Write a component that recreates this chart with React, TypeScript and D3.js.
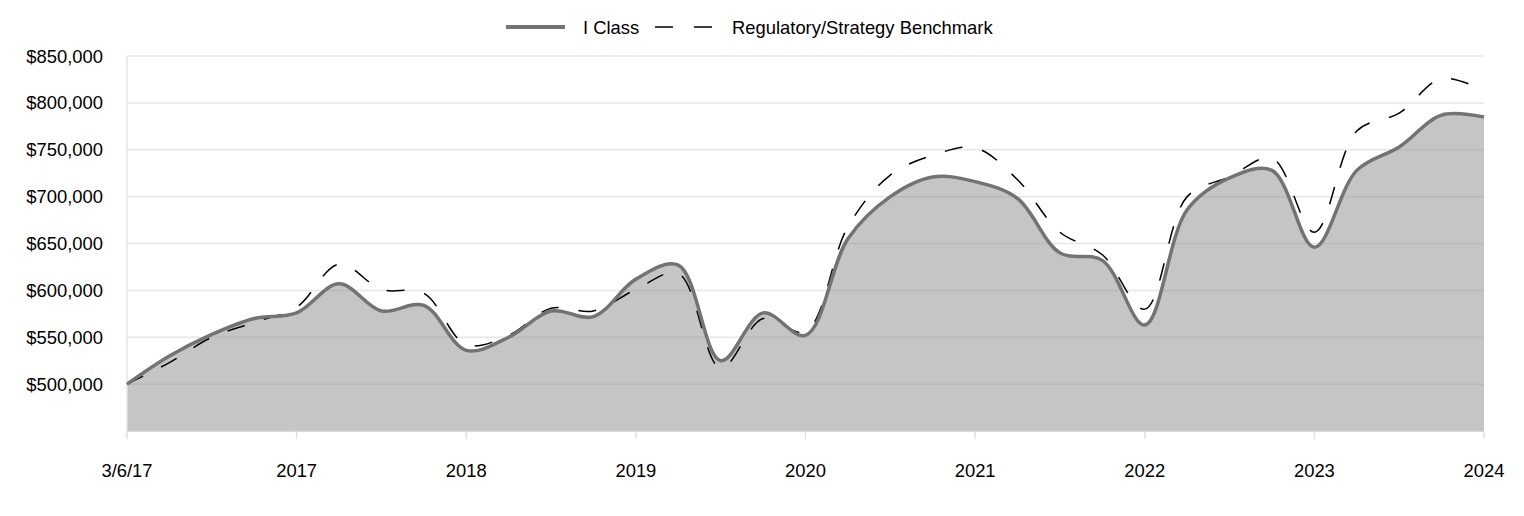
import React, { useEffect, useRef } from 'react';
import * as d3 from 'd3';

// quarterly values, 3/6/17 through 2024
const iClass = [
  500000, 530000, 553000, 570000, 576000, 607000, 578000, 584000, 536000,
  550000, 578000, 572000, 612000, 627000, 525000, 576000, 552000, 655000,
  700000, 721000, 716000, 698000, 640000, 632000, 563000, 686000, 720000,
  728000, 646000, 728000, 753000, 787000, 785000,
];
const benchmark = [
  500000, 523000, 550000, 566000, 582000, 628000, 601000, 597000, 542000,
  552000, 581000, 578000, 601000, 618000, 517000, 570000, 556000, 668000,
  723000, 744000, 752000, 718000, 662000, 638000, 580000, 700000, 721000,
  741000, 662000, 770000, 789000, 826000, 813000,
];
const xTickLabels = ['3/6/17', '2017', '2018', '2019', '2020', '2021', '2022', '2023', '2024'];
const yTicks = [500000, 550000, 600000, 650000, 700000, 750000, 800000, 850000];
const seriesNames = ['I Class', 'Regulatory/Strategy Benchmark'];

const width = 1524;
const height = 516;
const margin = { top: 56, right: 40, bottom: 85, left: 127 };
const font = 'Liberation Sans, Arial, sans-serif';
const fontSize = 18.4;

export default function App() {
  const ref = useRef<SVGSVGElement>(null);

  useEffect(() => {
    const svg = d3.select(ref.current);
    svg.selectAll('*').remove();

    const x = d3
      .scaleLinear()
      .domain([0, iClass.length - 1])
      .range([margin.left, width - margin.right]);
    const y = d3
      .scaleLinear()
      .domain([450000, 850000])
      .range([height - margin.bottom, margin.top]);

    const bottom = height - margin.bottom;
    const curve = d3.curveCatmullRom.alpha(0.5);

    // grid
    svg
      .append('g')
      .selectAll('line')
      .data(yTicks)
      .join('line')
      .attr('x1', margin.left)
      .attr('x2', width - margin.right)
      .attr('y1', d => y(d))
      .attr('y2', d => y(d))
      .attr('stroke', '#e6e6e6')
      .attr('stroke-width', 1.5);

    const area = d3
      .area<number>()
      .x((d, i) => x(i))
      .y0(bottom)
      .y1(d => y(d))
      .curve(curve);
    const line = d3
      .line<number>()
      .x((d, i) => x(i))
      .y(d => y(d))
      .curve(curve);

    svg
      .append('path')
      .datum(iClass)
      .attr('d', area)
      .attr('fill', 'rgb(140,140,140)')
      .attr('fill-opacity', 0.5);

    // axes lines
    svg
      .append('line')
      .attr('x1', margin.left)
      .attr('x2', margin.left)
      .attr('y1', margin.top)
      .attr('y2', bottom)
      .attr('stroke', '#e6e6e6')
      .attr('stroke-width', 1.5);
    svg
      .append('line')
      .attr('x1', margin.left)
      .attr('x2', width - margin.right)
      .attr('y1', bottom)
      .attr('y2', bottom)
      .attr('stroke', '#cccccc')
      .attr('stroke-width', 1.5);

    svg
      .append('path')
      .datum(benchmark)
      .attr('d', line)
      .attr('fill', 'none')
      .attr('stroke', '#000')
      .attr('stroke-width', 1.5)
      .attr('stroke-dasharray', '18,20');

    svg
      .append('path')
      .datum(iClass)
      .attr('d', line)
      .attr('fill', 'none')
      .attr('stroke', '#737373')
      .attr('stroke-width', 3.5);

    // x ticks
    const xt = svg
      .append('g')
      .selectAll('g')
      .data(xTickLabels)
      .join('g')
      .attr('transform', (d, i) => `translate(${x(i * 4)},0)`);
    xt.append('line')
      .attr('y1', bottom)
      .attr('y2', bottom + 8)
      .attr('stroke', '#e0e0e0')
      .attr('stroke-width', 1.5);
    xt.append('text')
      .attr('y', 477)
      .attr('text-anchor', 'middle')
      .attr('font-family', font)
      .attr('font-size', fontSize)
      .attr('fill', '#000')
      .text(d => d);

    // y labels
    svg
      .append('g')
      .selectAll('text')
      .data(yTicks)
      .join('text')
      .attr('x', 103)
      .attr('y', d => y(d) + 6.5)
      .attr('text-anchor', 'end')
      .attr('font-family', font)
      .attr('font-size', fontSize)
      .attr('fill', '#000')
      .text(d => '$' + d3.format(',')(d));

    // legend
    const lg = svg.append('g');
    lg.append('line')
      .attr('x1', 506)
      .attr('x2', 565)
      .attr('y1', 27)
      .attr('y2', 27)
      .attr('stroke', '#737373')
      .attr('stroke-width', 4);
    lg.append('text')
      .attr('x', 583)
      .attr('y', 33.5)
      .attr('font-family', font)
      .attr('font-size', fontSize)
      .text(seriesNames[0]);
    lg.append('line')
      .attr('x1', 655)
      .attr('x2', 712)
      .attr('y1', 27)
      .attr('y2', 27)
      .attr('stroke', '#000')
      .attr('stroke-width', 1.5)
      .attr('stroke-dasharray', '18,21');
    lg.append('text')
      .attr('x', 732)
      .attr('y', 33.5)
      .attr('font-family', font)
      .attr('font-size', fontSize)
      .text(seriesNames[1]);
  });

  return (
    <svg
      ref={ref}
      width={width}
      height={height}
      style={{ position: 'absolute', left: 0, top: 0, background: '#fff' }}
    />
  );
}
